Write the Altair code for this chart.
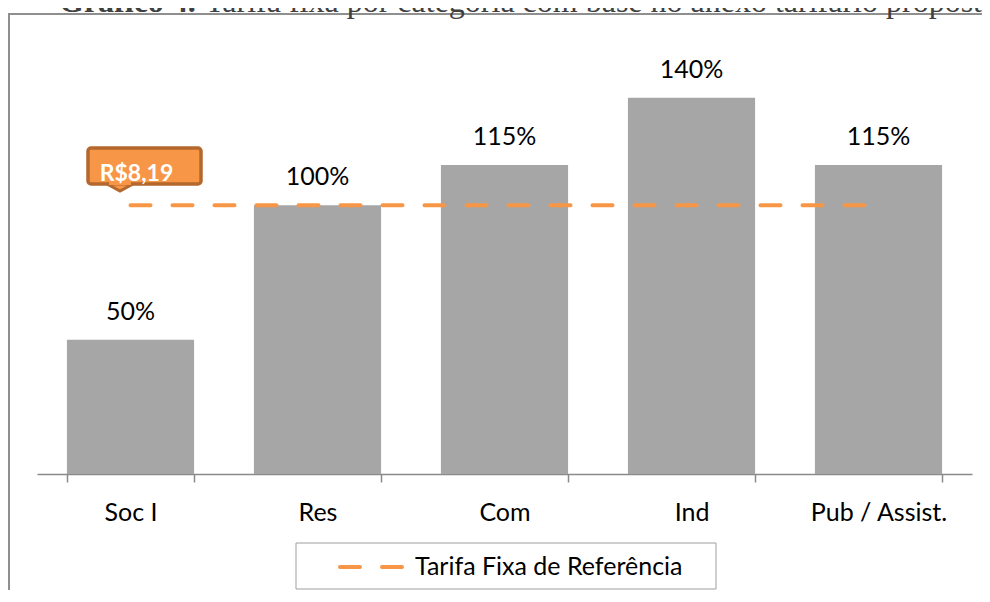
import altair as alt
import pandas as pd

# ---- data ----
categories = ["Soc I", "Res", "Com", "Ind", "Pub / Assist."]
percent_values = [50, 100, 115, 140, 115]
percent_labels = ["50%", "100%", "115%", "140%", "115%"]
reference_level = [100]
reference_label = ["R$8,19"]
legend_label = ["Tarifa Fixa de Referência"]
title_bold = "Gráfico 4."
title_rest = "Tarifa fixa por categoria com base no anexo tarifário proposto"

bars_df = pd.DataFrame({"cat": categories, "val": percent_values, "lab": percent_labels})
ref_df = pd.DataFrame({
    "cat": [categories[0]],
    "cat2": [categories[-1]],
    "val": reference_level,
    "lab": reference_label,
    "legend": legend_label,
})

FONT = "Lato"
ORANGE = "#F79646"
ORANGE_DARK = "#B5682E"
AXIS_GRAY = "#8a8a8a"
FRAME_GRAY = "#8f8f8f"

x_scale = alt.Scale(domain=categories, paddingInner=0.32, paddingOuter=0.16)
y_scale = alt.Scale(domain=[0, 160])

x_enc = alt.X(
    "cat:N", scale=x_scale, sort=categories,
    axis=alt.Axis(
        title=None, labelAngle=0, labelFont=FONT, labelFontSize=25, labelColor="#000000",
        labelBaseline="alphabetic", labelPadding=38, tickSize=8, tickBand="extent",
        domainColor=AXIS_GRAY, tickColor=AXIS_GRAY, domainWidth=1.5, tickWidth=1.5,
        grid=False,
    ),
)
y_enc = alt.Y("val:Q", scale=y_scale, axis=None)

frame_top = alt.Chart(ref_df).mark_rule(color=FRAME_GRAY, strokeWidth=2).encode(
    x=alt.value(-28), x2=alt.value(2000), y=alt.value(-30)
)
frame_left = alt.Chart(ref_df).mark_rule(color=FRAME_GRAY, strokeWidth=2).encode(
    x=alt.value(-28), y=alt.value(-31), y2=alt.value(2000)
)

title1 = alt.Chart(ref_df).mark_text(
    font="Liberation Serif", fontSize=32, fontWeight="bold", color="#404040",
    align="left", baseline="alphabetic",
).encode(x=alt.value(22), y=alt.value(-32), text=alt.value(title_bold))

title2 = alt.Chart(ref_df).mark_text(
    font="Liberation Serif", fontSize=32, color="#404040",
    align="left", baseline="alphabetic",
).encode(x=alt.value(168), y=alt.value(-32), text=alt.value(title_rest))

bars = alt.Chart(bars_df).mark_bar(color="#A6A6A6").encode(x=x_enc, y=y_enc)

bar_labels = alt.Chart(bars_df).mark_text(
    baseline="alphabetic", dy=-20, font=FONT, fontSize=25, color="#000000"
).encode(x=x_enc, y=y_enc, text="lab:N")

ref_line = alt.Chart(ref_df).mark_rule(
    color=ORANGE, strokeWidth=4, strokeDash=[20, 22], strokeCap="round"
).encode(x=x_enc, x2="cat2:N", y=y_enc)

callout_box = alt.Chart(ref_df).mark_rect(
    fill=ORANGE, stroke=ORANGE_DARK, strokeWidth=3.5, cornerRadius=3
).encode(x=alt.value(51), x2=alt.value(164), y=alt.value(104), y2=alt.value(140))

callout_tip = alt.Chart(ref_df).mark_point(
    shape="M-1,-0.27L1,-0.27L0,0.27Z", filled=True, fill=ORANGE, stroke=ORANGE_DARK,
    strokeWidth=3, size=676, opacity=1,
).encode(x=alt.value(83), y=alt.value(143.5))

callout_cover = alt.Chart(ref_df).mark_rect(fill=ORANGE).encode(
    x=alt.value(72), x2=alt.value(94), y=alt.value(135), y2=alt.value(141)
)

callout_text = alt.Chart(ref_df).mark_text(
    font=FONT, fontSize=23, fontWeight="bold", color="#FFFFFF",
    align="center", baseline="alphabetic", dx=6, dy=-24,
).encode(x=x_enc, y=y_enc, text="lab:N")

legend_box = alt.Chart(ref_df).mark_rect(filled=False, color="#9f9f9f", strokeWidth=1).encode(
    x=alt.value(259), x2=alt.value(679), y=alt.value(499), y2=alt.value(545)
)
legend_line = alt.Chart(ref_df).mark_rule(
    color=ORANGE, strokeWidth=4, strokeDash=[20, 22], strokeCap="round"
).encode(x=alt.value(303), x2=alt.value(366), y=alt.value(523))
legend_text = alt.Chart(ref_df).mark_text(
    font=FONT, fontSize=25, color="#000000", align="left", baseline="alphabetic"
).encode(x=alt.value(378), y=alt.value(531), text="legend:N")

chart = alt.layer(
    frame_top, frame_left, title1, title2, bars, bar_labels, ref_line,
    callout_box, callout_tip, callout_cover, callout_text,
    legend_box, legend_line, legend_text,
).properties(
    width=935, height=430,
    padding={"left": 29, "top": 36, "right": 10, "bottom": 116},
    autosize=alt.AutoSizeParams(type="none"),
    background="#FFFFFF",
).configure_view(stroke=None)

chart.save("out.html", embed_options={"renderer": "svg", "actions": False})
